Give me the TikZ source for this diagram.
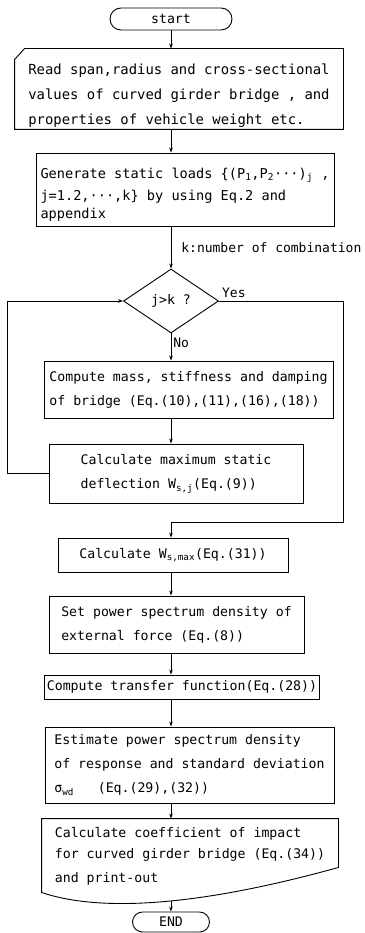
\documentclass[tikz,border=0pt]{standalone}
\usepackage{fontspec}
\setmainfont{DejaVu Sans Mono}
\usetikzlibrary{shapes.geometric}
\usetikzlibrary{arrows.meta}

\begin{document}
\begin{tikzpicture}[x=1pt, y=-1pt,
        box/.style={draw, line width=0.9pt, align=left, inner xsep=2pt, inner ysep=2pt,
            font=\fontsize{13.2}{24}\selectfont},
        term/.style={draw, line width=0.9pt, rounded corners=10pt, inner sep=0pt,
            font=\fontsize{13.2}{16}\selectfont},
        flow/.style={line width=0.7pt, -{Stealth[length=5pt, width=3.5pt]}},
        lbl/.style={inner sep=0pt, font=\fontsize{13}{16}\selectfont}
    ]
        \useasboundingbox (0, 0) rectangle (364, 933);

        \node[term, minimum width=122pt, minimum height=22pt, rounded corners=11pt] (start) at (171, 19) {start};

        \node[box, draw=none, inner ysep=0pt, minimum width=328pt, minimum height=80pt, font=\fontsize{13.9}{25}\selectfont] (read) at (179, 89)
            {\rule{0pt}{24pt}Read span,radius and cross-sectional\\ values of curved girder bridge , and\\ properties of vehicle weight etc.};
        \draw[line width=0.9pt] ([yshift=-11pt]read.north west) -- ([xshift=10pt]read.north west) -- (read.north east)
            -- (read.south east) -- (read.south west) -- cycle;

        \node[box, minimum width=298pt, minimum height=73pt, font=\fontsize{13.6}{22}\selectfont] (gen) at (185, 189.5)
            {\rule{0pt}{21pt}Generate static loads \{(P\textsubscript{1},P\textsubscript{2}···)\textsubscript{j} ,\\ j=1.2,···,k\} by using Eq.2 and\\[-4pt] appendix};

        \node[diamond, draw, line width=0.9pt, aspect=1.5, minimum width=95pt, minimum height=64pt, inner sep=0pt,
            font=\fontsize{13.2}{16}\selectfont] (test) at (171, 301) {j>k ?};
        \node[lbl, anchor=south west] (yes) at ([xshift=3pt, yshift=3pt]test.east) {Yes};

        \node[box, minimum width=289pt, minimum height=57pt] (mass) at (188.5, 389.5)
            {Compute mass, stiffness and damping\\ of bridge (Eq.(10),(11),(16),(18))};
        \node[box, minimum width=254pt, minimum height=59pt] (defl) at (176, 473.5)
            {Calculate maximum static\\ deflection W\textsubscript{s,j}(Eq.(9))};
        \node[box, minimum width=230pt, minimum height=34pt] (wmax) at (173, 555)
            {Calculate W\textsubscript{s,max}(Eq.(31))};
        \node[box, minimum width=255pt, minimum height=57pt] (psd) at (176.5, 624.5)
            {Set power spectrum density of\\ external force (Eq.(8))};
        \node[box, minimum width=272pt, minimum height=24pt] (trans) at (182, 687)
            {Compute transfer function(Eq.(28))};
        \node[box, minimum width=289pt, minimum height=76pt] (est) at (189.5, 765)
            {Estimate power spectrum density\\ of response and standard deviation\\ σ\textsubscript{wd}\ \ \ (Eq.(29),(32))};

        \node[box, draw=none, minimum width=296pt, minimum height=74pt, font=\fontsize{13.2}{21}\selectfont] (impact) at (190, 856)
            {Calculate coefficient of impact\\ for curved girder bridge (Eq.(34))\\[3pt] and print-out};
        \draw[line width=0.9pt] (impact.north west) -- (impact.north east) -- ([yshift=26pt]impact.south east)
            .. controls ([xshift=178pt, yshift=-7pt]impact.south west) and ([xshift=68pt, yshift=-22pt]impact.south west)
            .. ([yshift=1pt]impact.south west) coordinate[pos=0.5] (impbot) -- cycle;

        \node[term, minimum width=77pt, minimum height=20pt] (endn) at (171, 922) {END};

        \coordinate (yesturn) at (343, 522);
        \coordinate (noturn) at (7, 473.5);

        \draw[flow] (start.south) -- (read.north -| start.south);
        \draw[flow] (read.south -| test.north) -- (gen.north -| test.north);
        \draw[flow] (gen.south -| test.north) -- node[lbl, anchor=west, xshift=10pt] {k:number of combination} (test.north);
        \draw[flow] (test.south) -- node[lbl, anchor=west, xshift=2pt, pos=0.36] {No} (mass.north -| test.south);
        \draw[flow] (mass.south -| test.south) -- (defl.north -| test.south);
        \draw[flow] (defl.west) -- (noturn) |- (test.west);
        \draw[flow] (test.east) -| (yesturn) -- (yesturn -| test.south) -- (wmax.north -| test.south);
        \draw[flow] (wmax.south -| test.south) -- (psd.north -| test.south);
        \draw[flow] (psd.south -| test.south) -- (trans.north -| test.south);
        \draw[flow] (trans.south -| test.south) -- (est.north -| test.south);
        \draw[flow] (est.south -| test.south) -- (impact.north -| test.south);
        \draw[flow] (impbot) -- (impbot |- endn.north);
    \end{tikzpicture}
\end{document}
